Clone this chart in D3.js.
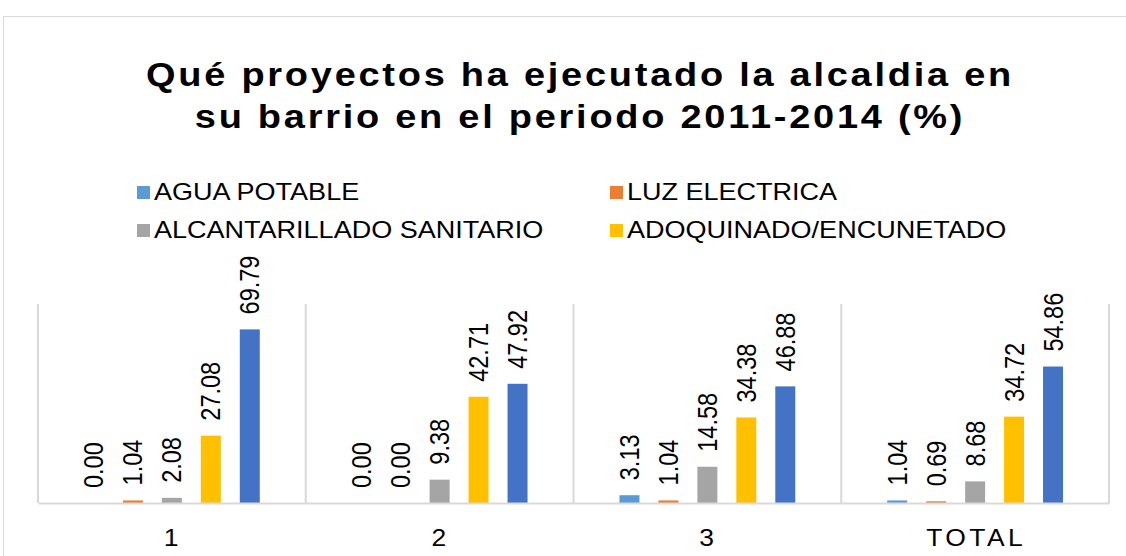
<!DOCTYPE html>
<html>
<head>
<meta charset="utf-8">
<script src="https://cdn.jsdelivr.net/npm/d3@7"></script>
<style>
  body { margin: 0; background: #fff; }
  text { font-family: "Liberation Sans", Arial, sans-serif; fill: #000; }
</style>
</head>
<body>
<div id="chart"></div>
<script>
(function () {

var categories = ["1", "2", "3", "TOTAL"];
var seriesNames = ["AGUA POTABLE", "LUZ ELECTRICA", "ALCANTARILLADO SANITARIO", "ADOQUINADO/ENCUNETADO", "OTRO"];
var seriesColors = ["#5b9bd5", "#ed7d31", "#a5a5a5", "#ffc000", "#4472c4"];
// one array per series, values by category
var aguaPotable    = [0.00, 0.00, 3.13, 1.04];
var luzElectrica   = [1.04, 0.00, 1.04, 0.69];
var alcantarillado = [2.08, 9.38, 14.58, 8.68];
var adoquinado     = [27.08, 42.71, 34.38, 34.72];
var otro           = [69.79, 47.92, 46.88, 54.86];
var titleLines = ["Qué proyectos ha ejecutado la alcaldia en", "su barrio en el periodo 2011-2014 (%)"];
var legendShown = 4; // the fifth legend entry is cut off in the original

var seriesValues = [aguaPotable, luzElectrica, alcantarillado, adoquinado, otro];

var W = 1126, H = 556;
var sx = 1.15; // the source picture is stretched sideways a little
var plot = {left: 38, right: 1109, top: 304, bottom: 503};

var svg = d3.select("#chart").append("svg")
    .attr("width", W)
    .attr("height", H);

// outer chart frame
svg.append("rect")
    .attr("x", 3.5).attr("y", 16.5)
    .attr("width", 1200).attr("height", 600)
    .attr("fill", "none")
    .attr("stroke", "#d9d9d9");

// title
svg.selectAll(".title")
    .data(titleLines)
    .enter().append("text")
    .attr("class", "title")
    .attr("text-anchor", "middle")
    .attr("transform", function (d, i) {
        return "translate(580," + (86 + i * 42) + ") scale(" + sx + ",1)";
    })
    .style("font-size", "33px")
    .style("font-weight", "bold")
    .style("letter-spacing", "2.4px")
    .text(function (d) { return d; });

// legend
var legend = svg.selectAll(".legend")
    .data(seriesNames.slice(0, legendShown))
    .enter().append("g")
    .attr("class", "legend")
    .attr("transform", function (d, i) {
        return "translate(" + (i % 2 ? 610 : 137) + "," + (200 + Math.floor(i / 2) * 38) + ")";
    });

legend.append("rect")
    .attr("x", 0).attr("y", -14)
    .attr("width", 13).attr("height", 13)
    .attr("fill", function (d, i) { return seriesColors[i]; });

legend.append("text")
    .attr("transform", "translate(17,0) scale(" + sx + ",1)")
    .style("font-size", "23.5px")
    .text(function (d) { return d; });

// scales
var x0 = d3.scaleBand()
    .domain(categories)
    .range([plot.left, plot.right]);

var x1 = d3.scaleBand()
    .domain(d3.range(seriesNames.length))
    .range([0, x0.bandwidth()])
    .paddingInner(19 / 39)
    .paddingOuter(1.18);

var y = d3.scaleLinear()
    .domain([0, 80])
    .range([plot.bottom, plot.top]);

// category separators
svg.selectAll(".sep")
    .data(categories.concat(["end"]))
    .enter().append("line")
    .attr("class", "sep")
    .attr("x1", function (d, i) { return i < categories.length ? x0(d) : plot.right; })
    .attr("x2", function (d, i) { return i < categories.length ? x0(d) : plot.right; })
    .attr("y1", plot.top)
    .attr("y2", plot.bottom)
    .attr("stroke", "#d9d9d9")
    .attr("stroke-width", 2);

// bars
var rows = [];
categories.forEach(function (c, ci) {
    seriesValues.forEach(function (vals, si) {
        rows.push({cat: c, s: si, v: vals[ci]});
    });
});

svg.selectAll(".bar")
    .data(rows)
    .enter().append("rect")
    .attr("class", "bar")
    .attr("x", function (d) { return x0(d.cat) + x1(d.s); })
    .attr("width", x1.bandwidth())
    .attr("y", function (d) { return y(d.v); })
    .attr("height", function (d) { return y(0) - y(d.v); })
    .attr("fill", function (d) { return seriesColors[d.s]; });

// value labels, rotated
svg.selectAll(".val")
    .data(rows)
    .enter().append("text")
    .attr("class", "val")
    .attr("transform", function (d) {
        var cx = x0(d.cat) + x1(d.s) + x1.bandwidth() / 2;
        return "translate(" + cx + "," + (y(d.v) - 15) + ") scale(" + sx + ",1) rotate(-90)";
    })
    .attr("dy", "0.35em")
    .style("font-size", "23.5px")
    .text(function (d) { return d.v.toFixed(2); });

// x axis
var xAxis = d3.axisBottom(x0).tickSize(0).tickPadding(0);
var gx = svg.append("g")
    .attr("transform", "translate(0," + plot.bottom + ")")
    .call(xAxis);
gx.select(".domain")
    .attr("stroke", "#d9d9d9")
    .attr("stroke-width", 2);
gx.selectAll(".tick text")
    .attr("y", null).attr("dy", null)
    .attr("transform", "translate(1,43) scale(" + sx + ",1)")
    .style("font-size", "23px")
    .style("letter-spacing", "3px")
    .style("font-family", "'Liberation Sans', Arial, sans-serif")
    .attr("fill", "#000");

}).call(this);
</script>
</body>
</html>
